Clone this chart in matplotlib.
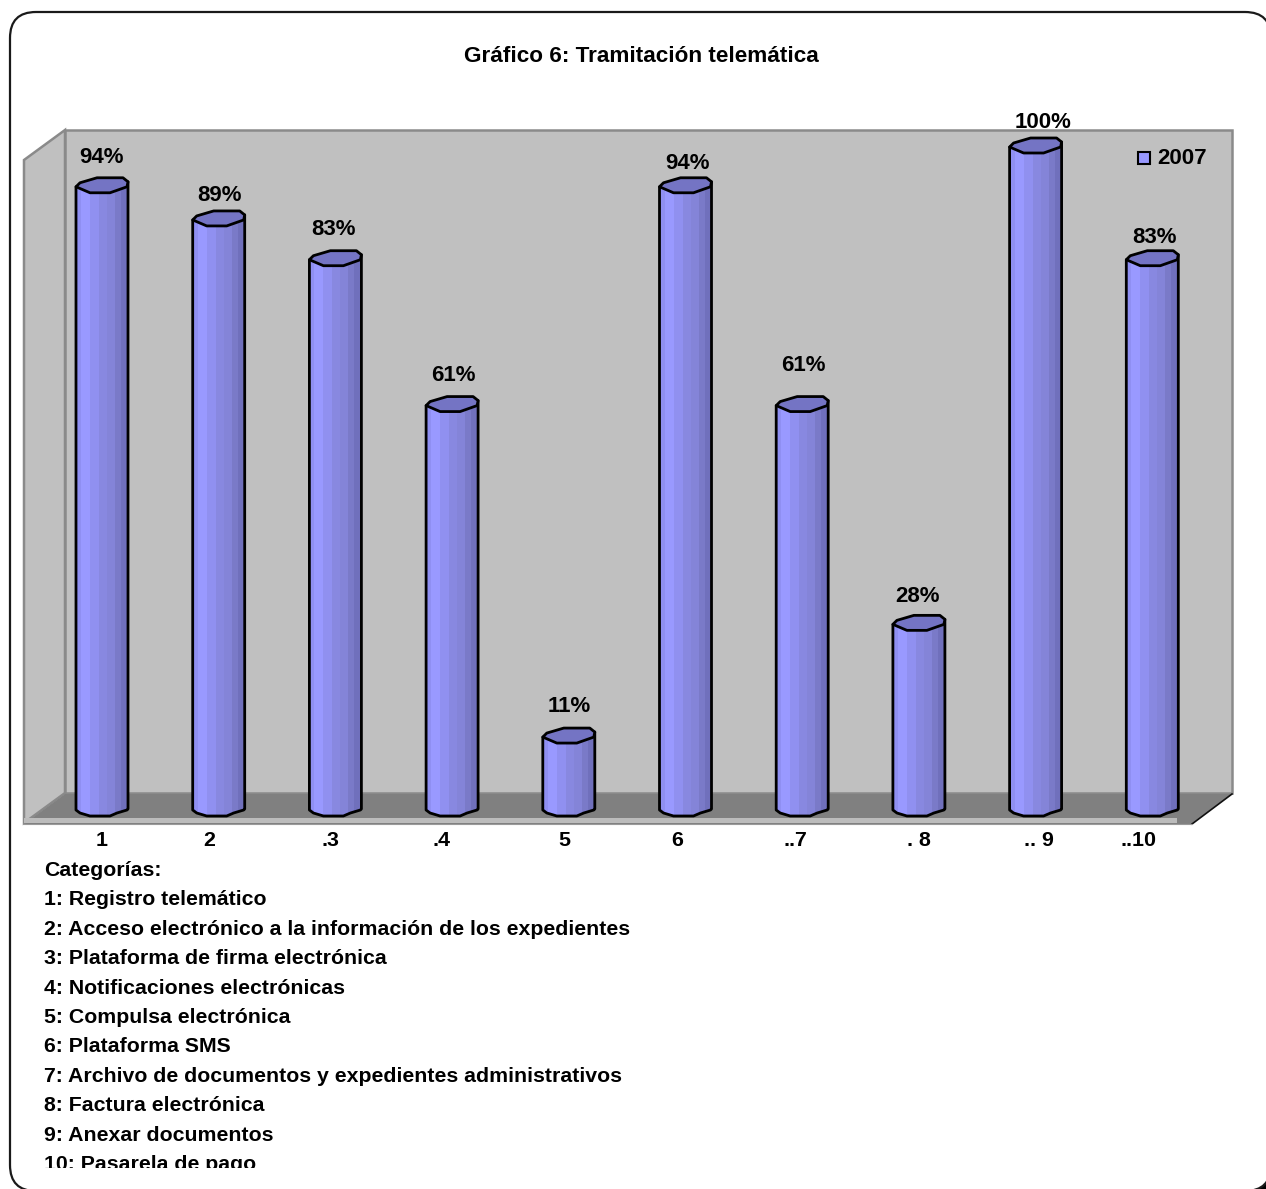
import matplotlib
matplotlib.use('Agg')
import matplotlib.pyplot as plt
from matplotlib.patches import FancyBboxPatch, Polygon, Rectangle

plt.rcParams['font.family'] = ['Liberation Sans', 'DejaVu Sans']
plt.rcParams['font.weight'] = 'bold'

# datos
title = 'Gráfico 6: Tramitación telemática'
series_name = '2007'
values = [94, 89, 83, 61, 11, 94, 61, 28, 100, 83]
tick_labels = ['1', '2', '.3', '.4', '5', '6', '..7', '. 8', '.. 9', '..10']
categories = [
    'Categorías:',
    '1: Registro telemático',
    '2: Acceso electrónico a la información de los expedientes',
    '3: Plataforma de firma electrónica',
    '4: Notificaciones electrónicas',
    '5: Compulsa electrónica',
    '6: Plataforma SMS',
    '7: Archivo de documentos y expedientes administrativos',
    '8: Factura electrónica',
    '9: Anexar documentos',
    '10: Pasarela de pago',
]

# posiciones en pixeles
W, H = 1266, 1189
tick_x = [102, 209, 330, 442, 564, 677, 795, 919, 1039, 1138]
label_dx = [0, 1, -2, 1, 0, 2, 1, -1, 7, 2]
label_dy = [27, 22, 28, 28, 29, 21, 38, 26, 22, 20]

STEP = 116.7
Y0, Y100 = 808, 145
K = (Y0 - Y100) / 100

fig = plt.figure(figsize=(W / 100, H / 100), dpi=100)

# capa de fondo en pixeles
bg = fig.add_axes([0, 0, 1, 1])
bg.set_xlim(0, W)
bg.set_ylim(H, 0)
bg.axis('off')

# marco redondeado; la esquina inferior derecha queda en negro
bg.add_patch(Rectangle((1240, 1160), 26, 29, fc='black', ec='none'))
bg.add_patch(FancyBboxPatch((10, 12), 1261, 1179, boxstyle='round,pad=0,rounding_size=26',
                            fc='white', ec='#1a1a1a', lw=1.6))

# paredes y suelo
wall = '#c0c0c0'
edge = '#8a8a8a'
bg.add_patch(Polygon([(24, 160), (65, 130), (65, 793), (24, 823)], fc=wall, ec=edge, lw=1.8))
bg.add_patch(Rectangle((65, 130), 1167, 663, fc=wall, ec=edge, lw=1.8))
bg.add_patch(Polygon([(65, 794), (1232, 794), (1192, 824), (24, 824)], fc='#808080', ec='none'))
bg.plot([1192, 1232], [824, 794], color='#111111', lw=1.2)
bg.add_patch(Rectangle((24, 818), 1153, 5, fc='#bcbcbc', ec='none'))
bg.plot([24, 1192], [823.5, 823.5], color='#9a9a9a', lw=0.8)

# ejes de las columnas: categoria en x, porcentaje en y
chart = fig.add_axes([(102 - STEP / 2) / W, 1 - Y0 / H, STEP * 10 / W, (Y0 - Y100) / H])
chart.set_xlim(-0.5, 9.5)
chart.set_ylim(0, 100)
chart.axis('off')
chart.patch.set_alpha(0)

strip_edges = [-26, -21, -12, -3, 5, 13, 19, 26]
strip_colors = ['#8f8ff2', '#9999ff', '#9090f0', '#8888e0', '#8484d8', '#7a7ac8', '#7070bc']
cap_px = [(-26, 2), (-22, -2), (-5, -7), (21, -7), (26, -3), (25, 2), (8, 8), (-12, 8)]
foot_px = [(26, 1), (25, 2), (15, 5), (8, 8), (-12, 8), (-22, 5), (-26, 2)]


def px(i, dx, v, dy):
    # desplazamiento en pixeles respecto al punto (categoria, valor)
    return i + dx / STEP, v - dy / K


for i, v in enumerate(values):
    body = [px(i, -26, v, 2), px(i, 26, v, -3)] + [px(i, dx, 0, dy) for dx, dy in foot_px]
    clip = Polygon(body, transform=chart.transData, fc='none', ec='none')
    chart.add_patch(clip)
    for j, col in enumerate(strip_colors):
        left = i + strip_edges[j] / STEP
        right = i + strip_edges[j + 1] / STEP
        bars = chart.bar(left, v + 2, right - left + 0.002, bottom=-2, align='edge', color=col,
                         lw=0, zorder=2)
        bars[0].set_clip_path(clip)
        bars[0].set_clip_box(None)
    chart.add_patch(Polygon(body, fc='none', ec='black', lw=2, joinstyle='round', zorder=3, clip_on=False))
    cap = [px(i, dx, v, dy) for dx, dy in cap_px]
    chart.add_patch(Polygon(cap, fc='#7474c4', ec='black', lw=2, joinstyle='round', zorder=4, clip_on=False))
    chart.text(i + label_dx[i] / STEP, v + label_dy[i] / K, f'{v}%', ha='center', va='center',
               fontsize=16, color='black', zorder=5, clip_on=False)

# leyenda
bg.add_patch(Rectangle((1137.5, 151.5), 12, 12, fc='#9999ff', ec='black', lw=1.5))
bg.text(1157, 158, series_name, ha='left', va='center', fontsize=16)

# textos
bg.text(641, 57, title, ha='center', va='center', fontsize=16.2)
for x, lab in zip(tick_x, tick_labels):
    bg.text(x, 840.5, lab, ha='center', va='center', fontsize=15.4)

clip_box = Rectangle((0, 0), W, 1168, transform=bg.transData)
for i, line in enumerate(categories):
    t = bg.text(44, 870.5 + i * 29.4, line, ha='left', va='center', fontsize=15.3)
    t.set_clip_path(clip_box)
    t.set_clip_on(True)

fig.savefig('out.png', dpi=100)
